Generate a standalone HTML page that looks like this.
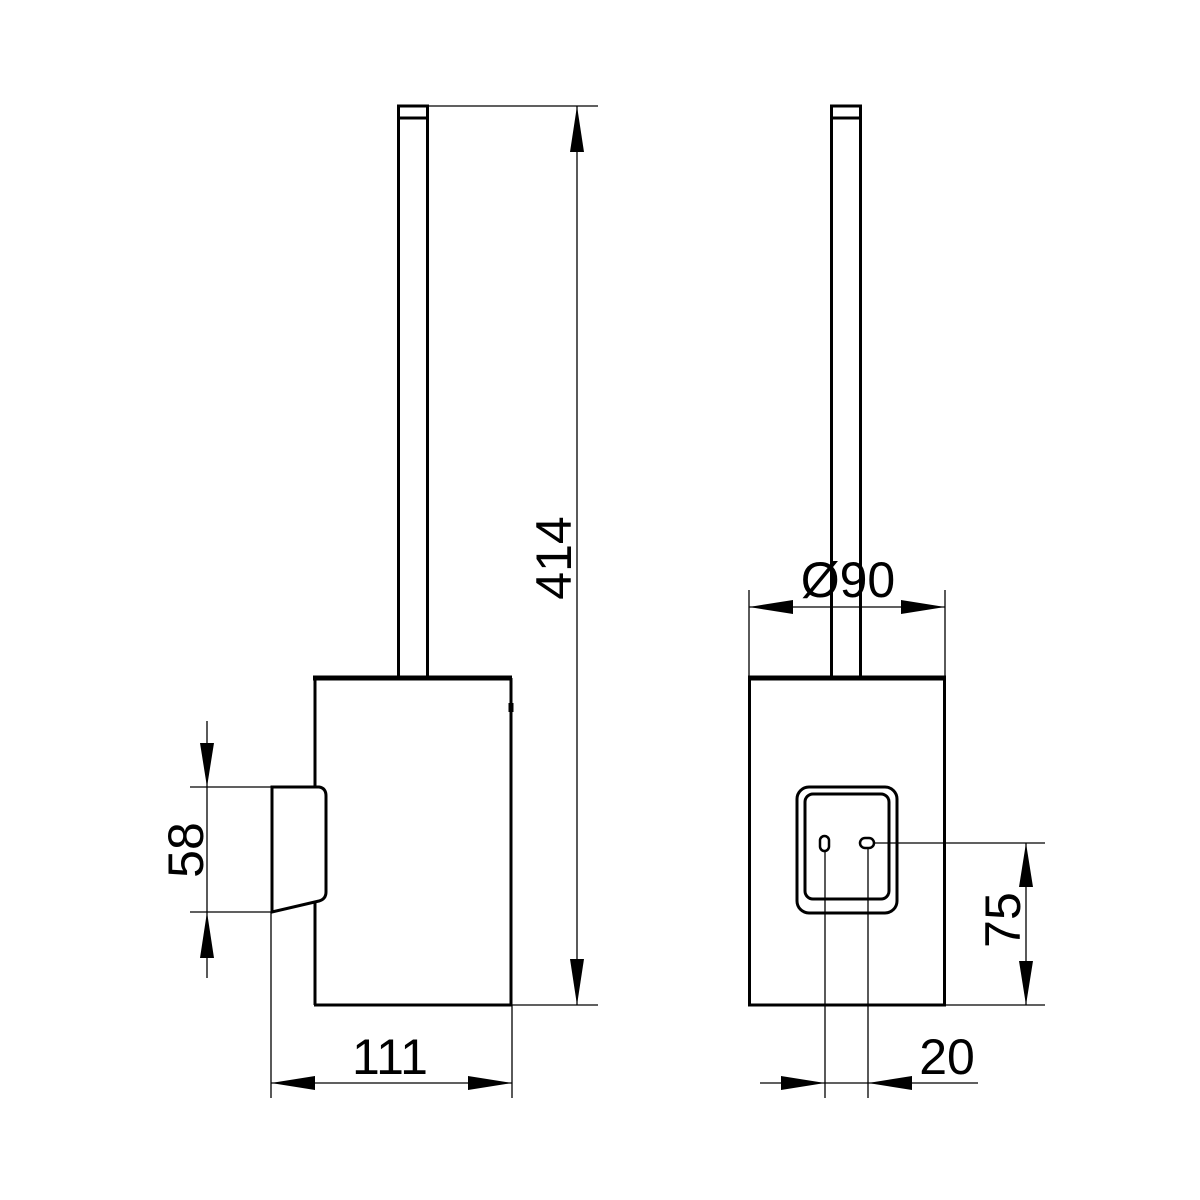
<!DOCTYPE html>
<html><head><style>html,body{margin:0;padding:0;background:#fff}svg{display:block}</style></head>
<body>
<svg width="1200" height="1200" viewBox="0 0 1200 1200" xmlns="http://www.w3.org/2000/svg" font-family="Liberation Sans, sans-serif" font-size="50">
<rect width="1200" height="1200" fill="#fff"/>
<g stroke="#000" fill="none">
<!-- LEFT VIEW -->
<rect x="398.5" y="106" width="29" height="572" stroke-width="3"/>
<line x1="398" y1="118" x2="428" y2="118" stroke-width="3"/>
<line x1="313" y1="678" x2="512" y2="678" stroke-width="5"/>
<line x1="315" y1="678" x2="315" y2="788" stroke-width="3"/>
<line x1="315" y1="902" x2="315" y2="1005" stroke-width="3"/>
<line x1="511" y1="678" x2="511" y2="1005" stroke-width="3"/>
<line x1="511" y1="703" x2="511" y2="712" stroke-width="5"/>
<line x1="314" y1="1005" x2="512" y2="1005" stroke-width="3"/>
<path d="M272 787 L319 787 Q326 788 326 796 L326 892 Q326 899 319 901 L272 912 Z" stroke-width="3"/>
<!-- 414 dim -->
<g stroke-width="1.3">
<line x1="428" y1="106" x2="598" y2="106"/>
<line x1="512" y1="1005" x2="598" y2="1005"/>
<line x1="577" y1="106" x2="577" y2="1005"/>
<line x1="190" y1="787" x2="272" y2="787"/>
<line x1="190" y1="912" x2="272" y2="912"/>
<line x1="207" y1="721" x2="207" y2="978"/>
<line x1="271" y1="912" x2="271" y2="1098"/>
<line x1="512" y1="1005" x2="512" y2="1098"/>
<line x1="271" y1="1083" x2="512" y2="1083"/>
</g>
</g>
<g fill="#000">
<polygon points="577,106 570,152 584,152"/>
<polygon points="577,1005 570,959 584,959"/>
<polygon points="207,787 200,743 214,743"/>
<polygon points="207,912 200,958 214,958"/>
<polygon points="271,1083 315,1076 315,1090"/>
<polygon points="512,1083 468,1076 468,1090"/>
</g>
<text transform="translate(571,558) rotate(-90)" text-anchor="middle">414</text>
<text transform="translate(203,850) rotate(-90)" text-anchor="middle">58</text>
<text x="390" y="1074" text-anchor="middle">111</text>

<!-- RIGHT VIEW -->
<g stroke="#000" fill="none">
<rect x="831.5" y="106" width="29" height="572" stroke-width="3"/>
<line x1="831" y1="118" x2="861" y2="118" stroke-width="3"/>
<line x1="748" y1="678" x2="946" y2="678" stroke-width="5"/>
<rect x="749.5" y="678" width="195" height="327" stroke-width="3"/>
<rect x="797" y="787" width="100" height="126" rx="12" stroke-width="3"/>
<rect x="805" y="794" width="84" height="105" rx="8" stroke-width="3"/>
<rect x="820" y="836" width="9" height="15" rx="4.5" stroke-width="2.5"/>
<rect x="860" y="838" width="14" height="10" rx="5" stroke-width="2.5"/>
<g stroke-width="1.3">
<line x1="749" y1="590" x2="749" y2="678"/>
<line x1="945" y1="590" x2="945" y2="678"/>
<line x1="749" y1="607" x2="945" y2="607"/>
<line x1="874" y1="843" x2="1045" y2="843"/>
<line x1="945" y1="1005" x2="1045" y2="1005"/>
<line x1="1026" y1="843" x2="1026" y2="1005"/>
<line x1="825" y1="851" x2="825" y2="1098"/>
<line x1="868" y1="848" x2="868" y2="1098"/>
<line x1="760" y1="1083" x2="978" y2="1083"/>
</g>
</g>
<g fill="#000">
<polygon points="749,607 793,600 793,614"/>
<polygon points="945,607 901,600 901,614"/>
<polygon points="1026,843 1019,887 1033,887"/>
<polygon points="1026,1005 1019,961 1033,961"/>
<polygon points="825,1083 781,1076 781,1090"/>
<polygon points="868,1083 912,1076 912,1090"/>
</g>
<text x="848" y="597" text-anchor="middle">Ø90</text>
<text transform="translate(1020,920) rotate(-90)" text-anchor="middle">75</text>
<text x="947" y="1074" text-anchor="middle">20</text>
</svg>
</body></html>
